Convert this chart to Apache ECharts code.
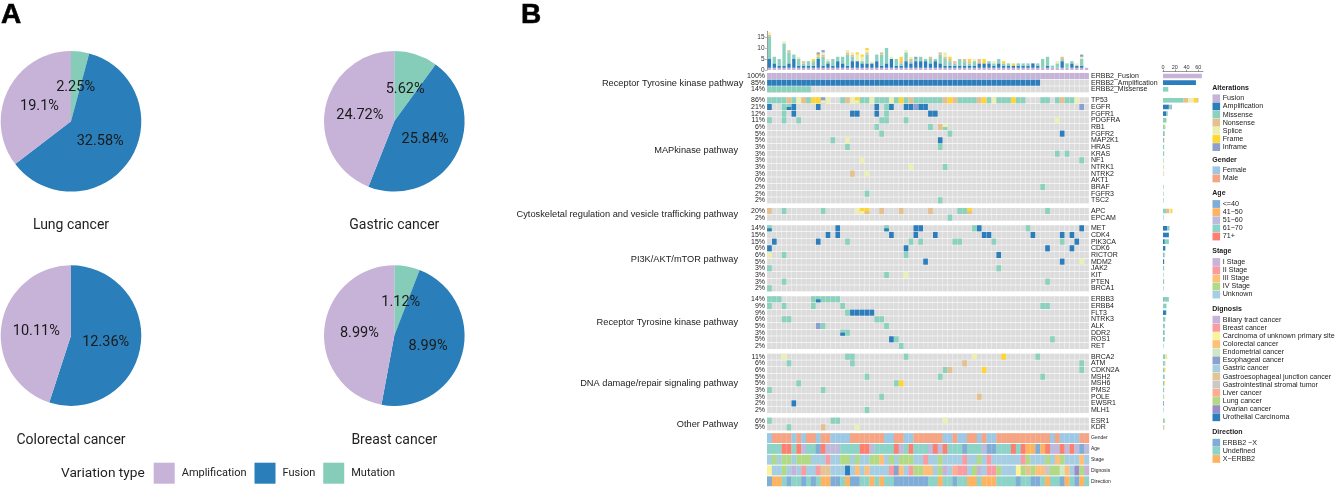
<!DOCTYPE html>
<html><head><meta charset="utf-8">
<style>html,body{margin:0;padding:0;background:#fff}#c{width:1335px;height:489px}</style>
<script src="https://cdn.jsdelivr.net/npm/echarts@6/dist/echarts.min.js"></script>
</head><body><div id="c"></div>
<script>
// ---------- Panel A data ----------
const pieNames = ['Mutation','Fusion','Amplification'];
const lungValues = [2.25,32.58,19.1];
const gastricValues = [5.62,25.84,24.72];
const colorectalValues = [null,12.36,10.11];
const breastValues = [1.12,8.99,8.99];

// ---------- Panel B data (tokens: letter + sample column(s); lowercase = lower-half overlay) ----------
const erbb2Genes = ['ERBB2_Fusion','ERBB2_Amplification','ERBB2_Missense'];
const erbb2Pct = ['100%','85%','14%'];
const erbb2Alts = ['F0-65','A0-55','M0-8'];

const mapkGenes = ['TP53','EGFR','FGFR1','PDGFRA','RB1','FGFR2','MAP2K1','HRAS','KRAS','NF1','NTRK1','NTRK2','AKT1','BRAF','FGFR3','TSC2'];
const mapkPct = ['86%','21%','12%','11%','6%','5%','5%','3%','3%','3%','3%','3%','0%','2%','2%','2%'];
const mapkAlts = [
 'M0-3 N4 M5 S6 N7 M8 R9-10 I11 s11 S12 M15 N16 S17 R18 s18 M19-20 S21 M22-24 S25 M26 R27 M28 N29 M30-35 N36 R37 N38 M39-42 N43 R44 M45 S46 M47-49 R50 M51-52 M56-57 M59 N60 M61-62 S63',
 'A0 M3 M4 a4 A5 A10 A22 M24 A25 A28-29 I30 A31-32 I64',
 'M3 A5 A17-18 A22 M24 A33-34',
 'M0 M3 M6 M23-24 M28 S59',
 'M22 M33 N35 S36 m36',
 'M23 M37 A60',
 'M13 S16 A35',
 'M16 M35',
 'M59 M61',
 'S19 M64',
 'S29 M36',
 'N17 S20',
 '',
 'M56',
 'M20',
 'M35'
];

const cytoGenes = ['APC','EPCAM'];
const cytoPct = ['20%','2%'];
const cytoAlts = ['N0 M3 M11 S18 R19 s19 R20 n20 N23 N27 N33 M39-40 R41 n41 M57','M37'];

const pi3kGenes = ['MET','CDK4','PIK3CA','CDK6','RICTOR','MDM2','JAK2','KIT','PTEN','BRCA1'];
const pi3kPct = ['14%','15%','15%','6%','6%','5%','3%','3%','3%','2%'];
const pi3kAlts = [
 'M0 a0 A14 M24 a24 A30-31 M42 A43 M53 A64',
 'A12 A14 A25 A30 A34 A44-45 A54 A60 A62',
 'A1 A10 M16 M29 M31 M38-39 M46 M60 A63',
 'A0 A28 A57 A62',
 'S0 M3 M28 A47',
 'A32 A60 S64',
 'M0 M47',
 'M24 S28',
 'M3 M57',
 'M0'
];

const rtkGenes = ['ERBB3','ERBB4','FLT3','NTRK3','ALK','DDR2','ROS1','RET'];
const rtkPct = ['14%','9%','9%','6%','5%','3%','5%','2%'];
const rtkAlts = [
 'M0-2 M9-14 a10',
 'M0 M3 M9 M15 M56-57',
 'M16 A17-21',
 'M3-4 M22-23',
 'I10 M11 M24',
 'M15 a15 M16',
 'A25 M26 M58',
 'M27'
];

const dnaGenes = ['BRCA2','ATM','CDKN2A','MSH2','MSH6','PMS2','POLE','EWSR1','MLH1'];
const dnaPct = ['11%','6%','6%','5%','5%','3%','3%','2%','2%'];
const dnaAlts = [
 'S3 M16-17 M28 S42 R48 M55',
 'M4 M17 N40 M64',
 'M36 N37 R44 M64',
 'M20 M35 M56',
 'M6 M26 R27',
 'M0 M11',
 'M23 N43',
 'A5',
 'M20'
];

const otherGenes = ['ESR1','KDR'];
const otherPct = ['6%','5%'];
const otherAlts = ['M0 M13-14 S36','M4 N11 S18'];

// Annotation tracks: letter + run length over the 66 samples
const trackNames = ['Gender','Age','Stage','Dignosis','Direction'];
const genderRuns = 'F1 M4 F1 M1 F1 M2 F1 M2 F4 M7 F2 M2 F2 M6 F2 M1 F2 M2 F1 M1 F2 M11 F1 M1 F4 M2';
const ageRuns = 'T3 R2 T1 R1 L1 T2 B1 R1 L3 T4 R2 L1 T4 R1 L1 T1 R1 T3 L1 R1 L1 R1 T3 B1 T3 L1 B2 T3 R1 T1 R1 O2 B1 O1 R1 L2 R1 L1 R1 L1 B1 L1';
const stageRuns = 'u1 d1 u1 d2 u1 d3 u3 b1 u2 d2 u1 d1 u2 d2 c1 u1 d1 u1 d3 u2 b1 u2 d1 u4 b1 u2 d1 u1 b1 u6 b1 d1 u3 d1 u1 c1 d1 u3 c1 u1';
const dignosisRuns = 'C1 G2 L1 G1 B1 G1 R1 G2 R1 J2 G3 U1 G1 O1 G1 O1 G4 R1 E1 O1 G1 R1 L2 O2 G1 L1 B1 G1 V1 R2 G1 L1 B1 G1 R2 L1 G3 C1 L1 J1 L1 O2 S1 L2 D1 O1 G1 Y1 L1 B1';
const directionRuns = 'B1 O2 T1 B1 T2 B1 T1 B1 T1 O2 B2 T1 O1 B2 T2 O1 T1 O1 T2 B7 T2 O1 T2 B1 T2 O2 T1 O3 T4 B1 T2 B2 T1 O1 T2 B1 O1 T1 B1 O1 T1';

// Colours
const altColors = {F:'#C7B2D8',A:'#2B7DBC',M:'#8AD1BE',N:'#E6BF8E',S:'#EBEFB2',R:'#FFD62F',I:'#8D9FCF'};
const altOrder = ['F','A','M','N','S','R','I'];
const genderColors = {F:'#9CC8E5',M:'#F5A583'};
const ageColors = {B:'#7FADD6',O:'#FDB462',L:'#BEBADA',T:'#8DD3C7',R:'#FB8072'};
const stageColors = {a:'#C7B2D8',b:'#F89CA2',c:'#FDBF7A',d:'#B2DA86',u:'#A6CEE3'};
const dignosisColors = {B:'#C7B2D8',R:'#F89CA2',C:'#FBF29A',O:'#FDBF7A',D:'#CCE8C4',E:'#8DA0CB',G:'#A6CEE3',J:'#E5C494',S:'#C8C8C8',V:'#FCAE91',L:'#B2DA86',Y:'#9A8CC4',U:'#2B7DBC'};
const directionColors = {B:'#7FADD6',T:'#8DD3C7',O:'#FDB462'};

// Legends
const legendAlterations = [['Fusion','#C7B2D8'],['Amplification','#2B7DBC'],['Missense','#8AD1BE'],['Nonsense','#E6BF8E'],['Splice','#EBEFB2'],['Frame','#FFD62F'],['Inframe','#8D9FCF']];
const legendGender = [['Female','#9CC8E5'],['Male','#F5A583']];
const legendAge = [['<=40','#7FADD6'],['41\u221250','#FDB462'],['51\u221260','#BEBADA'],['61\u221270','#8DD3C7'],['71+','#FB8072']];
const legendStage = [['I Stage','#C7B2D8'],['II Stage','#F89CA2'],['III Stage','#FDBF7A'],['IV Stage','#B2DA86'],['Unknown','#A6CEE3']];
const legendDignosis = [['Biliary tract cancer','#C7B2D8'],['Breast cancer','#F89CA2'],['Carcinoma of unknown primary site','#FBF29A'],['Colorectal cancer','#FDBF7A'],['Endometrial cancer','#CCE8C4'],['Esophageal cancer','#8DA0CB'],['Gastric cancer','#A6CEE3'],['Gastroesophageal junction cancer','#E5C494'],['Gastrointestinal stromal tumor','#C8C8C8'],['Liver cancer','#FCAE91'],['Lung cancer','#B2DA86'],['Ovarian cancer','#9A8CC4'],['Urothelial Carcinoma','#2B7DBC']];
const legendDirection = [['ERBB2 \u2212X','#7FADD6'],['Undefined','#8DD3C7'],['X\u2212ERBB2','#FDB462']];

// ---------- Build ----------
const N = 66;
const cols = Array.from({length:N},(_,i)=>String(i));
const SANS = '"Liberation Sans",Arial,sans-serif';
const ROBOTO = 'Roboto,sans-serif';
const GX = 767, GW = 322, PITCH = 6.67;

function parseAlts(str){
  const out=[]; if(!str) return out;
  str.trim().split(/\s+/).forEach(t=>{
    const ch=t[0], half=ch===ch.toLowerCase(), key=ch.toUpperCase();
    const [a,b]=t.slice(1).split('-').map(Number);
    for(let c=a;c<=(b===undefined?a:b);c++) out.push({c,key,half});
  });
  return out;
}
function expandRuns(str){
  const out=[];
  str.split(/\s+/).forEach(t=>{for(let i=0;i<+t.slice(1);i++) out.push(t[0]);});
  return out;
}

const groups = [
 {genes:erbb2Genes,pct:erbb2Pct,alts:erbb2Alts,y0:76,path:'Receptor Tyrosine kinase pathway',ly:83.3,lx:743.3},
 {genes:mapkGenes,pct:mapkPct,alts:mapkAlts,y0:100.3,path:'MAPkinase pathway',ly:150.7,lx:738},
 {genes:cytoGenes,pct:cytoPct,alts:cytoAlts,y0:211,path:'Cytoskeletal regulation and vesicle trafficking pathway',ly:214.7,lx:738},
 {genes:pi3kGenes,pct:pi3kPct,alts:pi3kAlts,y0:228.3,path:'PI3K/AKT/mTOR pathway',ly:259,lx:738},
 {genes:rtkGenes,pct:rtkPct,alts:rtkAlts,y0:299.3,path:'Receptor Tyrosine kinase pathway',ly:322.7,lx:738},
 {genes:dnaGenes,pct:dnaPct,alts:dnaAlts,y0:356.7,path:'DNA damage/repair signaling pathway',ly:383.7,lx:738},
 {genes:otherGenes,pct:otherPct,alts:otherAlts,y0:420.7,path:'Other Pathway',ly:424.3,lx:738}
];

const grid=[],xAxis=[],yAxis=[],series=[],graphic=[];
const topCounts={}; altOrder.forEach(k=>topCounts[k]=new Array(N).fill(0));

function renderCell(params,api){
  const c=api.coord([api.value(0),api.value(1)]);
  const s=api.size([1,1]);
  const t=api.value(2), half=api.value(3);
  const w=s[0]-0.25, full=s[1]-0.6;
  const h=half?full/2:full;
  const top=c[1]-full/2+(half?full/2:0);
  return {type:'rect',shape:{x:c[0]-w/2,y:top,width:w,height:h},style:{fill:t==='G'?'#DCDCDC':altColors[t]}};
}

groups.forEach((g,gi)=>{
  const top=g.y0-PITCH/2, h=g.genes.length*PITCH;
  // main oncoprint
  const gridIdx=grid.length;
  grid.push({left:GX,top:top,width:GW,height:h});
  const xIdx=xAxis.length;
  xAxis.push({type:'category',gridIndex:gridIdx,data:cols,show:false});
  const yL=yAxis.length;
  const lab=(m)=>({show:true,interval:0,fontSize:7,fontFamily:SANS,color:'#222',margin:m});
  yAxis.push({type:'category',gridIndex:gridIdx,data:g.pct,inverse:true,position:'left',axisLine:{show:false},axisTick:{show:false},axisLabel:lab(2)});
  yAxis.push({type:'category',gridIndex:gridIdx,data:g.genes,inverse:true,position:'right',axisLine:{show:false},axisTick:{show:false},axisLabel:lab(2)});
  const data=[];
  g.genes.forEach((_,r)=>{for(let c=0;c<N;c++) data.push([c,r,'G',0]);});
  const counts={}; altOrder.forEach(k=>counts[k]=new Array(g.genes.length).fill(0));
  g.alts.forEach((s,r)=>parseAlts(s).forEach(a=>{
    data.push([a.c,r,a.key,a.half?1:0]);
    counts[a.key][r]++; topCounts[a.key][a.c]++;
  }));
  series.push({type:'custom',coordinateSystem:'cartesian2d',xAxisIndex:xIdx,yAxisIndex:yL,silent:true,animation:false,
    encode:{x:0,y:1},renderItem:renderCell,data:data});
  // right summary bars
  const gridR=grid.length;
  grid.push({left:1163,top:top,width:40,height:h});
  const xR=xAxis.length;
  xAxis.push(gi===0?{type:'value',gridIndex:gridR,min:0,max:68,position:'top',
      offset:1,axisLine:{show:true,lineStyle:{color:'#555',width:0.6}},
      axisTick:{show:true,length:2,lineStyle:{color:'#555',width:0.6},customValues:[0,20,40,60]},
      axisLabel:{show:true,fontSize:5.5,fontFamily:SANS,color:'#333',margin:1.5,customValues:[0,20,40,60]},splitLine:{show:false}}
    :{type:'value',gridIndex:gridR,min:0,max:68,show:false,splitLine:{show:false}});
  const yR=yAxis.length;
  yAxis.push({type:'category',gridIndex:gridR,data:g.genes,inverse:true,show:false});
  altOrder.forEach(k=>{
    series.push({type:'bar',name:k,xAxisIndex:xR,yAxisIndex:yR,stack:'g'+gi,barWidth:4.6,silent:true,animation:false,
      itemStyle:{color:altColors[k]},data:counts[k]});
  });
  graphic.push({type:'text',x:g.lx,y:g.ly,style:{text:g.path,align:'right',verticalAlign:'middle',fontSize:9.25,fontFamily:SANS,fill:'#222'}});
});

// top stacked bars
const topG=grid.length;
grid.push({left:GX,top:31.4,width:GW,height:38.6});
const topX=xAxis.length;
xAxis.push({type:'category',gridIndex:topG,data:cols,show:false});
const topY=yAxis.length;
yAxis.push({type:'value',gridIndex:topG,min:0,max:17.5,position:'left',splitLine:{show:false},
  axisLine:{show:true,lineStyle:{color:'#888',width:0.9}},
  axisTick:{show:true,length:2,lineStyle:{color:'#888',width:0.6},customValues:[0,5,10,15]},
  axisLabel:{show:true,fontSize:6.5,fontFamily:SANS,color:'#333',margin:2.5,customValues:[0,5,10,15]}});
altOrder.forEach(k=>{
  series.push({type:'bar',xAxisIndex:topX,yAxisIndex:topY,stack:'top',barWidth:3.3,silent:true,animation:false,
    itemStyle:{color:altColors[k]},data:topCounts[k]});
});

// annotation tracks
const trackRows=[[expandRuns(genderRuns),genderColors],[expandRuns(ageRuns),ageColors],[expandRuns(stageRuns),stageColors],[expandRuns(dignosisRuns),dignosisColors],[expandRuns(directionRuns),directionColors]];
const annG=grid.length;
grid.push({left:GX,top:432.7,width:GW,height:54});
const annX=xAxis.length;
xAxis.push({type:'category',gridIndex:annG,data:cols,show:false});
const annY=yAxis.length;
yAxis.push({type:'category',gridIndex:annG,data:trackNames,inverse:true,position:'right',axisLine:{show:false},axisTick:{show:false},
  axisLabel:{show:true,interval:0,fontSize:5,fontFamily:SANS,color:'#222',margin:2}});
const annData=[];
trackRows.forEach((t,r)=>t[0].forEach((k,c)=>annData.push([c,r,k])));
series.push({type:'custom',coordinateSystem:'cartesian2d',xAxisIndex:annX,yAxisIndex:annY,silent:true,animation:false,encode:{x:0,y:1},
  renderItem(params,api){
    const c=api.coord([api.value(0),api.value(1)]),s=api.size([1,1]),r=api.value(1);
    const h=s[1]-0.9;
    return {type:'rect',shape:{x:c[0]-s[0]/2,y:c[1]-h/2,width:s[0]+0.2,height:h},style:{fill:trackRows[r][1][annData[params.dataIndex][2]]}};
  },data:annData.map(d=>[d[0],d[1]])});

// pies
function pieData(vals){
  const colors={Mutation:'#85CDB9',Fusion:'#2A7EB9',Amplification:'#C7B2D8'};
  return pieNames.map((n,i)=>vals[i]==null?null:{name:n,value:vals[i],itemStyle:{color:colors[n]}}).filter(Boolean);
}
[[lungValues,71,121.3,'Lung cancer',225.8],[gastricValues,394.3,121.3,'Gastric cancer',225.8],[colorectalValues,71,335.6,'Colorectal cancer',440.5],[breastValues,394.3,335.6,'Breast cancer',440.5]].forEach(p=>{
  const cx=p[1],cy=p[2];
  series.push({type:'pie',center:[cx,cy],radius:[0,70.3],startAngle:90,clockwise:true,silent:true,animation:false,avoidLabelOverlap:false,
    label:{show:true,position:'inside',formatter:'{c}%',fontSize:14.5,fontFamily:ROBOTO,color:'#1a1a1a'},labelLine:{show:false},
    labelLayout(q){
      const lx=q.labelRect.x+q.labelRect.width/2, ly=q.labelRect.y+q.labelRect.height/2;
      return {x:cx+(lx-cx)*0.92,y:cy+(ly-cy)*0.92+1,align:'center',verticalAlign:'middle'};
    },
    data:pieData(p[0])});
  graphic.push({type:'text',x:p[1],y:p[4],style:{text:p[3],align:'center',verticalAlign:'middle',fontSize:14,fontFamily:ROBOTO,fill:'#222'}});
});
const T=(text,x,y,o)=>graphic.push({type:'text',x,y,style:Object.assign({text,verticalAlign:'middle',fill:'#222',fontFamily:SANS},o)});
T('A',1,15,{fontSize:28,fontWeight:'bold',fill:'#000',stroke:'#000',lineWidth:0.6});
T('B',521,15,{fontSize:28,fontWeight:'bold',fill:'#000',stroke:'#000',lineWidth:0.6});
T('Variation type',61,473.7,{fontSize:13.7,fontFamily:ROBOTO});

// right legends
[['Alterations',88,98.3,legendAlterations],['Gender',159.7,170.3,legendGender],['Age',193.3,204,legendAge],['Stage',251.3,262,legendStage],['Dignosis',309,319.7,legendDignosis],['Direction',431.7,442.7,legendDirection]].forEach(l=>{
  T(l[0],1212.3,l[1],{fontSize:7,fontWeight:'bold'});
  l[3].forEach((it,i)=>{
    const y=l[2]+i*8.13;
    graphic.push({type:'rect',shape:{x:1212.5,y:y-3.9,width:7.6,height:7.8},style:{fill:it[1]}});
    T(it[0],1222.7,y,{fontSize:7.15});
  });
});

const chart=echarts.init(document.getElementById('c'),null,{renderer:'canvas'});
chart.setOption({
  animation:false,
  grid,xAxis,yAxis,series,graphic:{elements:graphic},
  legend:{left:153.7,top:462.7,padding:0,itemWidth:21,itemHeight:21,itemGap:8,icon:'rect',selectedMode:false,
    data:['Amplification','Fusion','Mutation'],
    textStyle:{fontSize:11,fontFamily:ROBOTO,color:'#222',padding:[0,0,0,2]}}
});
</script></body></html>
